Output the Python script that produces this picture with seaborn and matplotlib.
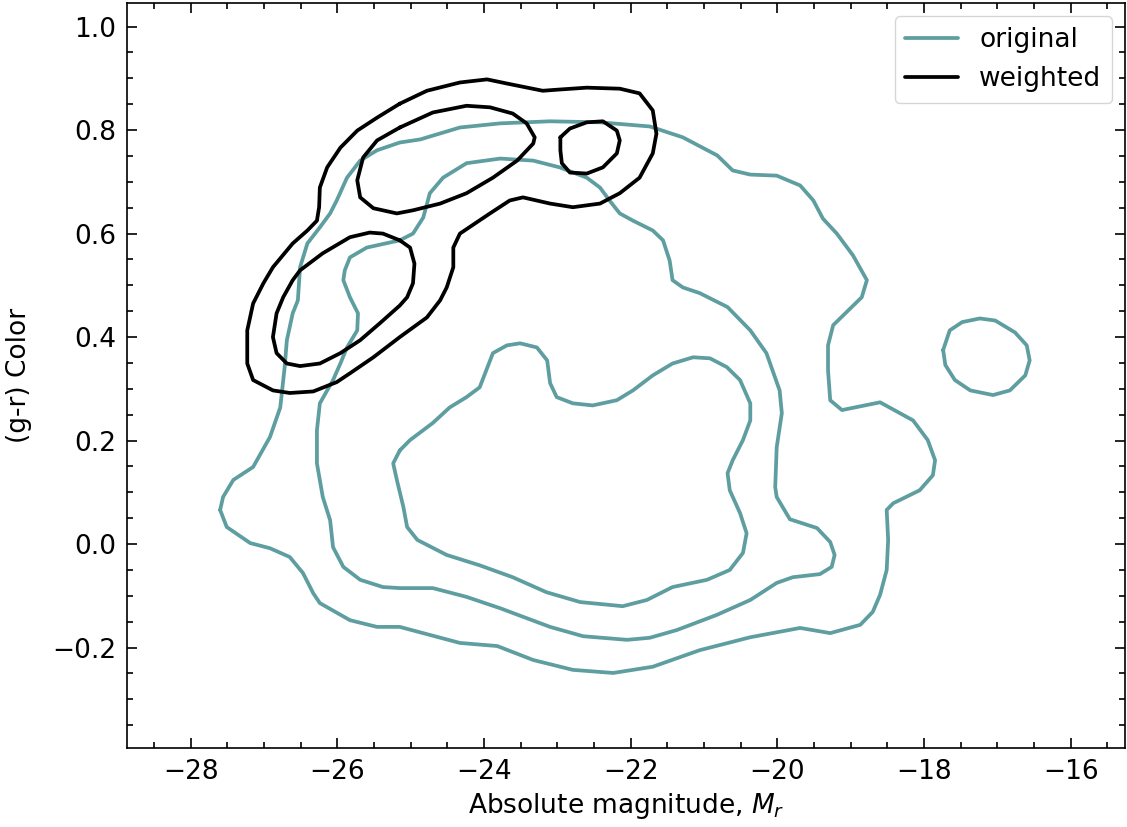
import matplotlib
matplotlib.use("Agg")
import matplotlib.pyplot as plt
from matplotlib.ticker import MultipleLocator
import pandas as pd
import seaborn as sns

# ---------------- data (contour lines, data units) ----------------
# "original" sample, outer density level
orig_outer_x = [-27.60, -27.56, -27.42, -27.15, -26.92, -26.78, -26.72, -26.69, -26.61, -26.54,
                -26.51, -26.41, -26.24, -26.10, -26.01, -25.87, -25.69, -25.46, -25.15, -24.87,
                -24.33, -23.78, -23.10, -22.42, -21.74, -21.29, -20.82, -20.61, -20.37, -20.01,
                -19.69, -19.51, -19.38, -19.19, -18.97, -18.78, -18.85, -19.24, -19.31, -19.31,
                -19.28, -19.12, -18.60, -18.15, -17.95, -17.85, -17.88, -18.06, -18.42, -18.51,
                -18.49, -18.51, -18.60, -18.70, -18.87, -19.28, -19.69, -20.37, -21.06, -21.70,
                -22.24, -22.79, -23.33, -23.82, -24.33, -25.15, -25.46, -25.83, -26.24, -26.33,
                -26.47, -26.65, -26.92, -27.19, -27.51]
orig_outer_y = [0.066, 0.091, 0.124, 0.149, 0.207, 0.264, 0.342, 0.394, 0.446, 0.471,
                0.535, 0.581, 0.612, 0.639, 0.664, 0.708, 0.741, 0.761, 0.776, 0.782,
                0.805, 0.813, 0.817, 0.815, 0.807, 0.786, 0.751, 0.722, 0.714, 0.712,
                0.693, 0.664, 0.629, 0.600, 0.558, 0.510, 0.477, 0.423, 0.384, 0.336,
                0.278, 0.259, 0.274, 0.239, 0.201, 0.162, 0.133, 0.104, 0.079, 0.066,
                0.008, -0.050, -0.098, -0.131, -0.156, -0.172, -0.162, -0.180, -0.205, -0.237,
                -0.249, -0.243, -0.224, -0.197, -0.191, -0.160, -0.160, -0.147, -0.114, -0.095,
                -0.056, -0.025, -0.008, 0.002, 0.033]

# "original", middle level
orig_mid_x = [-25.15, -25.60, -25.83, -25.90, -25.92, -25.83, -25.72, -25.73, -25.87, -25.96,
              -26.06, -26.24, -26.28, -26.28, -26.20, -26.10, -26.06, -25.92, -25.69, -25.38,
              -25.15, -24.70, -24.24, -23.78, -23.10, -22.65, -22.05, -21.74, -21.37, -20.83,
              -20.37, -20.01, -19.79, -19.42, -19.26, -19.22, -19.28, -19.46, -19.83, -20.01,
              -20.03, -20.01, -19.94, -19.97, -20.15, -20.37, -20.68, -21.06, -21.29, -21.43,
              -21.47, -21.56, -21.70, -21.97, -22.15, -22.29, -22.42, -22.60, -22.97, -23.33,
              -23.78, -24.24, -24.56, -24.74, -24.83, -24.97]
orig_mid_y = [0.587, 0.573, 0.554, 0.529, 0.510, 0.477, 0.446, 0.413, 0.380, 0.349,
              0.317, 0.272, 0.220, 0.156, 0.091, 0.046, -0.006, -0.044, -0.069, -0.083,
              -0.085, -0.085, -0.102, -0.124, -0.160, -0.178, -0.185, -0.181, -0.166, -0.137,
              -0.108, -0.075, -0.064, -0.058, -0.044, -0.021, 0.004, 0.031, 0.048, 0.091,
              0.110, 0.187, 0.253, 0.297, 0.369, 0.413, 0.458, 0.485, 0.496, 0.510,
              0.548, 0.587, 0.606, 0.625, 0.639, 0.664, 0.689, 0.708, 0.728, 0.741,
              0.745, 0.736, 0.708, 0.678, 0.631, 0.600]

# "original", inner level
orig_inner_x = [-25.15, -25.01, -24.70, -24.47, -24.24, -24.06, -23.97, -23.88, -23.69, -23.51,
                -23.28, -23.14, -23.10, -23.01, -22.79, -22.52, -22.19, -21.97, -21.70, -21.43,
                -21.15, -20.92, -20.69, -20.51, -20.37, -20.37, -20.47, -20.61, -20.68, -20.65,
                -20.51, -20.42, -20.47, -20.65, -20.96, -21.43, -21.78, -22.11, -22.69, -23.15,
                -23.61, -24.06, -24.51, -24.91, -25.05, -25.10, -25.19, -25.24]
orig_inner_y = [0.181, 0.201, 0.234, 0.264, 0.284, 0.303, 0.336, 0.369, 0.384, 0.388,
                0.380, 0.355, 0.311, 0.284, 0.272, 0.268, 0.278, 0.297, 0.326, 0.349,
                0.361, 0.359, 0.342, 0.317, 0.272, 0.239, 0.201, 0.162, 0.137, 0.104,
                0.060, 0.021, -0.017, -0.050, -0.069, -0.083, -0.108, -0.120, -0.112, -0.093,
                -0.064, -0.041, -0.021, 0.008, 0.033, 0.071, 0.124, 0.156]

# "original", isolated faint island
orig_island_x = [-17.74, -17.65, -17.48, -17.24, -17.03, -16.76, -16.60, -16.56, -16.62, -16.83,
                 -17.06, -17.37, -17.58, -17.71]
orig_island_y = [0.375, 0.413, 0.429, 0.436, 0.432, 0.409, 0.384, 0.355, 0.326, 0.297,
                 0.288, 0.297, 0.317, 0.346]

# "weighted" sample, outer level
wt_outer_x = [-25.15, -24.78, -24.33, -23.96, -23.69, -23.20, -23.01, -22.60, -22.15, -21.88,
              -21.70, -21.65, -21.70, -21.88, -22.15, -22.42, -22.79, -23.10, -23.47, -23.65,
              -23.92, -24.33, -24.42, -24.42, -24.51, -24.60, -24.78, -25.15, -25.51, -25.83,
              -26.01, -26.33, -26.65, -26.88, -27.15, -27.23, -27.23, -27.15, -27.01, -26.88,
              -26.61, -26.41, -26.28, -26.25, -26.24, -26.14, -25.96, -25.73, -25.46]
wt_outer_y = [0.851, 0.876, 0.892, 0.898, 0.890, 0.876, 0.878, 0.882, 0.880, 0.871,
              0.838, 0.793, 0.755, 0.708, 0.678, 0.658, 0.651, 0.658, 0.670, 0.664,
              0.639, 0.600, 0.573, 0.535, 0.496, 0.471, 0.438, 0.400, 0.361, 0.330,
              0.313, 0.295, 0.292, 0.297, 0.317, 0.349, 0.413, 0.465, 0.504, 0.535,
              0.581, 0.606, 0.625, 0.651, 0.689, 0.728, 0.766, 0.799, 0.824]

# "weighted", inner level: three separate peaks
wt_peak1_x = [-25.15, -24.70, -24.24, -23.92, -23.61, -23.42, -23.31, -23.33, -23.55, -23.88,
              -24.24, -24.60, -24.97, -25.19, -25.51, -25.69, -25.73, -25.65, -25.46]
wt_peak1_y = [0.805, 0.834, 0.847, 0.844, 0.832, 0.813, 0.786, 0.774, 0.741, 0.708,
              0.678, 0.658, 0.645, 0.639, 0.649, 0.670, 0.703, 0.747, 0.780]

wt_peak2_x = [-22.96, -22.83, -22.60, -22.38, -22.19, -22.15, -22.19, -22.38, -22.60, -22.83,
              -22.94, -22.96]
wt_peak2_y = [0.786, 0.803, 0.815, 0.817, 0.799, 0.780, 0.755, 0.728, 0.716, 0.718,
              0.736, 0.761]

wt_peak3_x = [-25.15, -25.01, -24.95, -24.97, -25.05, -25.15, -25.42, -25.69, -25.96, -26.24,
              -26.51, -26.69, -26.83, -26.88, -26.83, -26.74, -26.61, -26.51, -26.20, -25.83,
              -25.56, -25.38]
wt_peak3_y = [0.587, 0.573, 0.542, 0.504, 0.477, 0.461, 0.427, 0.394, 0.369, 0.349,
              0.344, 0.349, 0.369, 0.400, 0.446, 0.477, 0.510, 0.529, 0.562, 0.593,
              0.602, 0.600]

series_labels = ["original", "weighted"]
xlabel_text = r"Absolute magnitude, $M_r$"
ylabel_text = "(g-r) Color"

# ---------------- style ----------------
TEAL = "#5F9EA0"
BLACK = "#000000"
FS = 19

sns.set_style("ticks")
plt.rcParams["font.family"] = ["DejaVu Sans"]
plt.rcParams["mathtext.fontset"] = "dejavusans"
for key in ["text.color", "axes.labelcolor", "xtick.color", "ytick.color", "axes.edgecolor"]:
    plt.rcParams[key] = "black"

fig = plt.figure(figsize=(11.27, 8.27), dpi=100)
ax = fig.add_axes([127 / 1127, 1 - 748 / 827, 998 / 1127, 744.7 / 827])


def draw_contour(xs, ys, color, label=None):
    xs = list(xs) + [xs[0]]
    ys = list(ys) + [ys[0]]
    df = pd.DataFrame({"x": xs, "y": ys})
    sns.lineplot(data=df, x="x", y="y", sort=False, estimator=None, color=color,
                 lw=2.7, ax=ax, label=label, legend=False,
                 solid_joinstyle="round", solid_capstyle="round")


draw_contour(orig_outer_x, orig_outer_y, TEAL, series_labels[0])
draw_contour(orig_mid_x, orig_mid_y, TEAL)
draw_contour(orig_inner_x, orig_inner_y, TEAL)
draw_contour(orig_island_x, orig_island_y, TEAL)
draw_contour(wt_outer_x, wt_outer_y, BLACK, series_labels[1])
draw_contour(wt_peak1_x, wt_peak1_y, BLACK)
draw_contour(wt_peak2_x, wt_peak2_y, BLACK)
draw_contour(wt_peak3_x, wt_peak3_y, BLACK)

ax.set_xlim(-28.87, -15.26)
ax.set_ylim(-0.394, 1.045)
ax.xaxis.set_major_locator(MultipleLocator(2))
ax.xaxis.set_minor_locator(MultipleLocator(0.5))
ax.yaxis.set_major_locator(MultipleLocator(0.2))
ax.yaxis.set_minor_locator(MultipleLocator(0.05))
ax.tick_params(which="both", direction="in", top=True, right=True, width=1.2,
               labelsize=FS, pad=8, color="black", labelcolor="black")
ax.tick_params(which="major", length=7.5)
ax.tick_params(which="minor", length=4.5)
for s in ax.spines.values():
    s.set_linewidth(1.2)
    s.set_color("black")

ax.set_xlabel(xlabel_text, fontsize=FS, labelpad=4, color="black")
ax.set_ylabel(ylabel_text, fontsize=FS, labelpad=14, color="black")

handles, labels = ax.get_legend_handles_labels()
leg = ax.legend(handles, labels, loc="upper right", fontsize=FS, frameon=True,
                fancybox=True, edgecolor="0.8", framealpha=0.8)
for t in leg.get_texts():
    t.set_color("black")

fig.savefig("out.png", dpi=100)
